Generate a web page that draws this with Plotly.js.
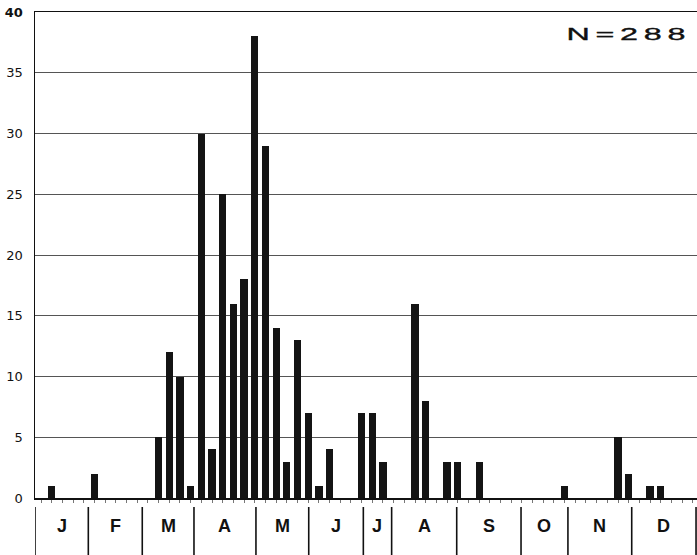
<!DOCTYPE html>
<html>
<head>
<meta charset="utf-8">
<script src="https://cdn.plot.ly/plotly-3.0.1.min.js"></script>
<style>html,body{margin:0;padding:0;background:#fff;}#chart{width:697px;height:555px;}</style>
</head>
<body>
<div id="chart"></div>
<script>
// Period index (0-based, ~6-day periods through the year) and counts
var periods = [0, 4, 10, 11, 12, 13, 14, 15, 16, 17, 18, 19, 20, 21, 22, 23, 24, 25, 26, 29, 30, 31, 34, 35, 37, 38, 40, 48, 53, 54, 56, 57];
var counts  = [1, 2, 5, 12, 10, 1, 30, 4, 25, 16, 18, 38, 29, 14, 3, 13, 7, 1, 4, 7, 7, 3, 16, 8, 3, 3, 3, 1, 5, 2, 1, 1];
// Month labels and month boundaries (in period units)
var months = ["J", "F", "M", "A", "M", "J", "J", "A", "S", "O", "N", "D"];
var monthEdges = [-1.57, 3.42, 8.47, 13.31, 19.11, 24.05, 29.16, 31.81, 37.9, 43.92, 48.31, 54.28, 60.3];
var yTicks = [0, 5, 10, 15, 20, 25, 30, 35, 40];
var yTickText = ["0", "5", "10", "15", "20", "25", "30", "35", "<b>40</b>"];
var nLabel = "N=288";

var allSlots = [];
for (var i = -1; i <= 60; i++) allSlots.push(i);

var shapes = [];
for (var k = 0; k < monthEdges.length; k++) {
  shapes.push({type: "line", xref: "x", yref: "paper", x0: monthEdges[k], x1: monthEdges[k],
    y0: -0.0185, y1: -0.13, line: {color: "#111", width: 1.6}});
}
var annotations = [];
for (var m = 0; m < months.length; m++) {
  annotations.push({xref: "x", yref: "paper", x: (monthEdges[m] + monthEdges[m + 1]) / 2, y: -0.0566,
    text: "<b>" + months[m] + "</b>", showarrow: false, xanchor: "center", yanchor: "middle",
    font: {family: "Liberation Sans, Arial, sans-serif", size: 18, color: "#111"}});
}
annotations.push({xref: "paper", yref: "paper", x: 0.984, y: 0.953, text: nLabel, showarrow: false,
  xanchor: "right", yanchor: "middle", name: "nlabel",
  font: {family: "Liberation Sans, Arial, sans-serif", size: 17, color: "#111"}});

var trace = {type: "bar", x: periods, y: counts, width: 0.68,
  marker: {color: "#141414", line: {width: 0}}, hoverinfo: "x+y"};

var layout = {
  width: 697, height: 555,
  margin: {l: 35, r: 0, t: 12, b: 57, pad: 0},
  paper_bgcolor: "#fff", plot_bgcolor: "#fff",
  showlegend: false,
  bargap: 0,
  xaxis: {range: [-1.57, 60.39], showgrid: false, zeroline: false,
    showline: true, linecolor: "#111", linewidth: 1.5, mirror: true,
    tickmode: "array", tickvals: allSlots, ticks: "outside", ticklen: 3, tickwidth: 1, tickcolor: "#777",
    showticklabels: false, fixedrange: true},
  yaxis: {range: [0, 40], tickmode: "array", tickvals: yTicks, ticktext: yTickText,
    showgrid: true, gridcolor: "#555", gridwidth: 1, zeroline: false,
    showline: true, linecolor: "#111", linewidth: 1.5, ticks: "", ticklabelstandoff: 8,
    tickfont: {family: "DejaVu Sans, sans-serif", size: 13, color: "#111"}, fixedrange: true},
  shapes: shapes,
  annotations: annotations
};

Plotly.newPlot("chart", [trace], layout, {displayModeBar: false, staticPlot: true}).then(function () {
  // widen the extended "N=288" lettering
  var texts = document.querySelectorAll("#chart .annotation-text");
  texts.forEach(function (t) {
    if (t.textContent === nLabel) {
      t.style.letterSpacing = "3px";
      t.style.transformBox = "fill-box";
      t.style.transformOrigin = "right center";
      t.style.transform = "scaleX(1.9)";
      t.style.stroke = "#111";
      t.style.strokeWidth = "0.35px";
    }
  });
});
</script>
</body>
</html>
